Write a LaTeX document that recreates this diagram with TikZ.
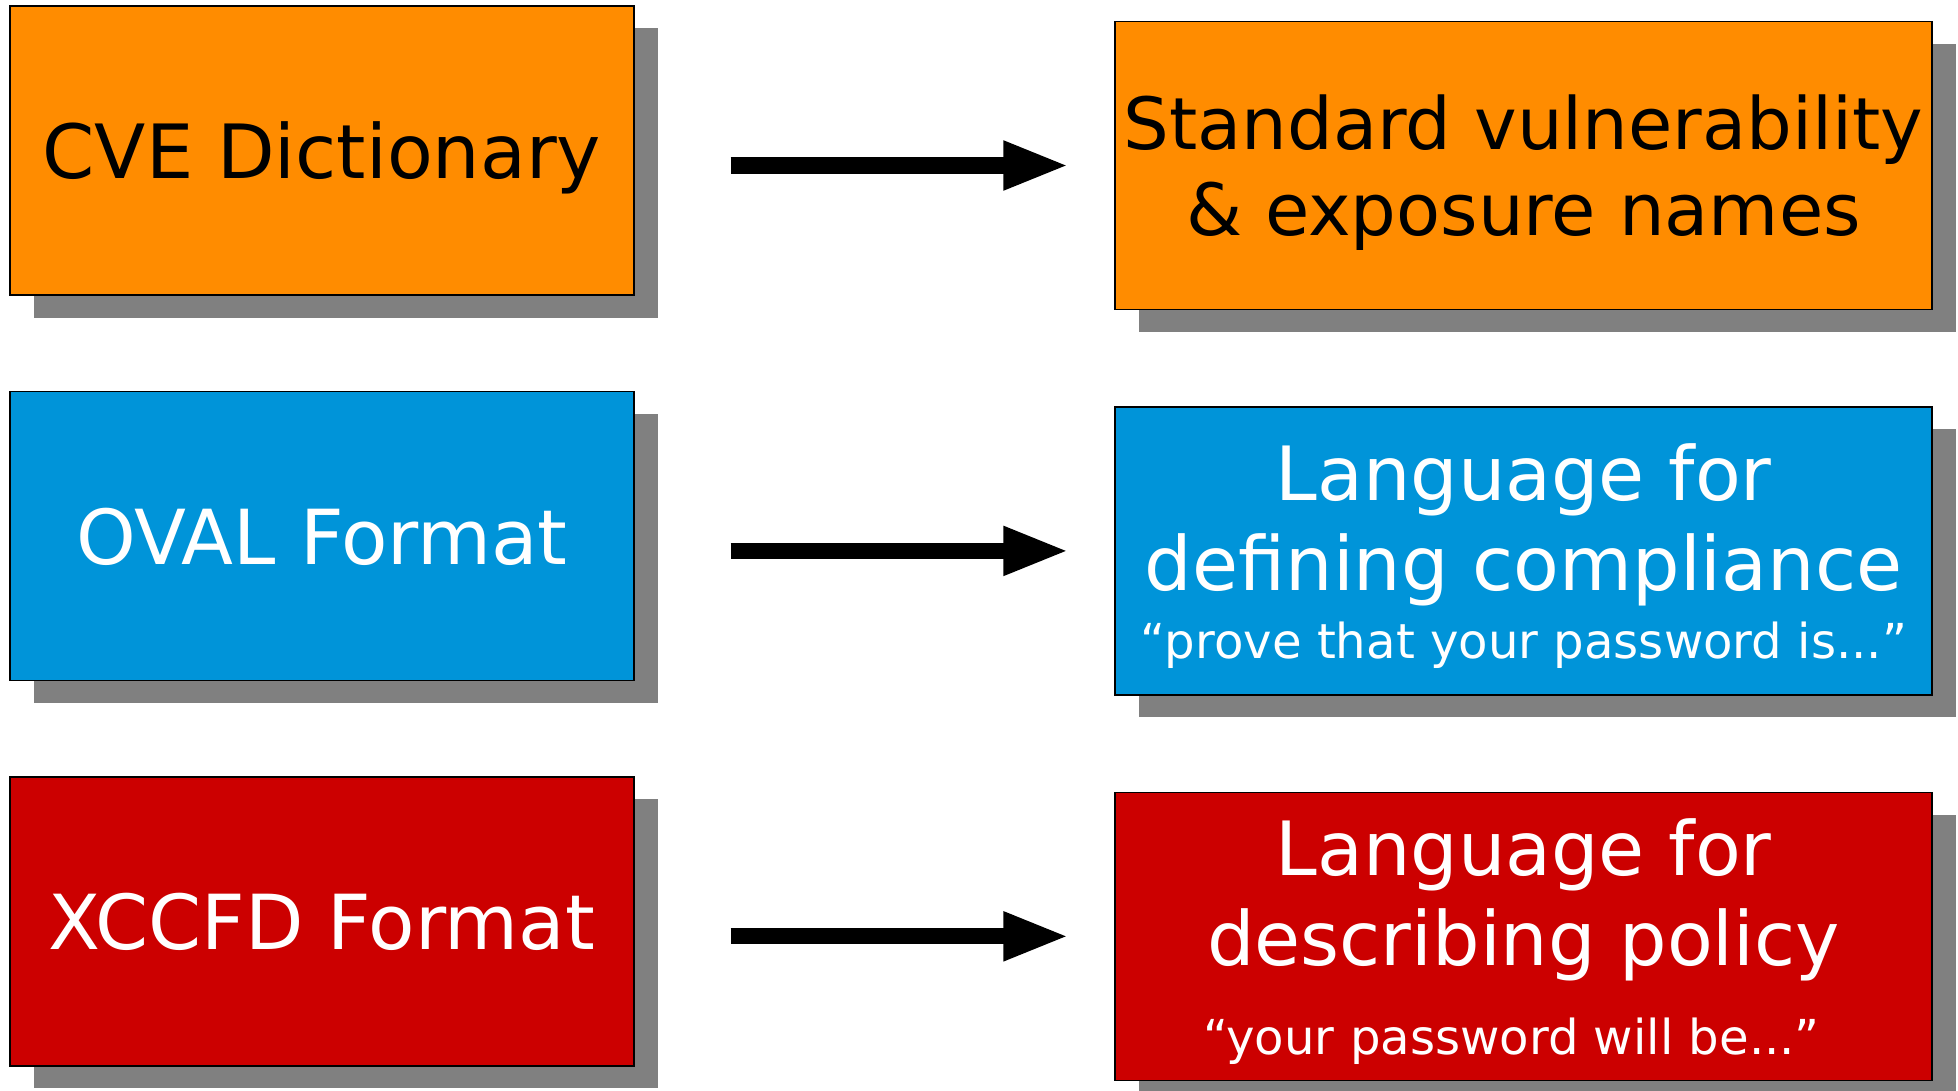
\documentclass[tikz,border=0pt]{standalone}
\usepackage{fontspec}
\setmainfont{DejaVu Sans}
\usetikzlibrary{positioning,shadows,arrows.meta}
\definecolor{cveorange}{RGB}{255,140,0}
\definecolor{ovalblue}{RGB}{0,148,217}
\definecolor{xccfdred}{RGB}{204,0,0}
\newcommand{\leftfont}{\fontsize{21.6}{26}\selectfont}
\newcommand{\namesfont}{\fontsize{20.5}{24.5}\selectfont}
\newcommand{\langfont}{\fontsize{21.3}{25.6}\selectfont}
\newcommand{\quotefont}{\fontsize{13.7}{16.4}\selectfont}

\begin{document}
\begin{tikzpicture}[node distance=0.95cm,
  box/.style={rectangle,draw=black,line width=0.4pt,inner sep=0pt,align=center,
    drop shadow={shadow xshift=0.235cm,shadow yshift=-0.225cm,fill=black!50,opacity=1}},
  left box/.style={box,font=\leftfont,text depth=0pt,minimum width=6.24cm,minimum height=2.89cm},
  right box/.style={box,font=\langfont,minimum width=8.17cm,minimum height=2.88cm},
  big arrow/.style={line width=4.6pt,-{Triangle[length=0.66cm,width=0.45cm]},
    shorten <=0.96cm,shorten >=0.45cm}]
  \useasboundingbox (0,0) rectangle (19.58,10.90);
  % left column
  \node[left box,fill=cveorange,font=\langfont] (cve) at (3.22,9.395) {CVE Dictionary};
  \node[left box,fill=ovalblue,text=white] (oval) [below=of cve] {OVAL Format};
  \node[left box,fill=xccfdred,text=white] (xccfd) [below=of oval] {XCCFD Format};
  % right column
  \node[right box,fill=cveorange,font=\namesfont,text depth=0pt] (names) at (15.235,9.245)
    {Standard vulnerability\\\& exposure names};
  \node[right box,fill=ovalblue,text=white,text depth=0pt] (compl) [below=0.96cm of names]
    {Language for\\defining compliance\\[-6.2pt]{\quotefont “prove that your password is...”}};
  \node[right box,fill=xccfdred,text=white,text depth=0pt] (policy) [below=0.96cm of compl]
    {Language for\\describing policy\\[-0.4pt]{\quotefont “your password will be...”\hspace{0.24cm}\mbox{}}};
  % arrows
  \draw[big arrow] (cve.east |- names.west) -- (names.west);
  \draw[big arrow] (oval.east |- compl.west) -- (compl.west);
  \draw[big arrow] (xccfd.east |- policy.west) -- (policy.west);
\end{tikzpicture}
\end{document}
